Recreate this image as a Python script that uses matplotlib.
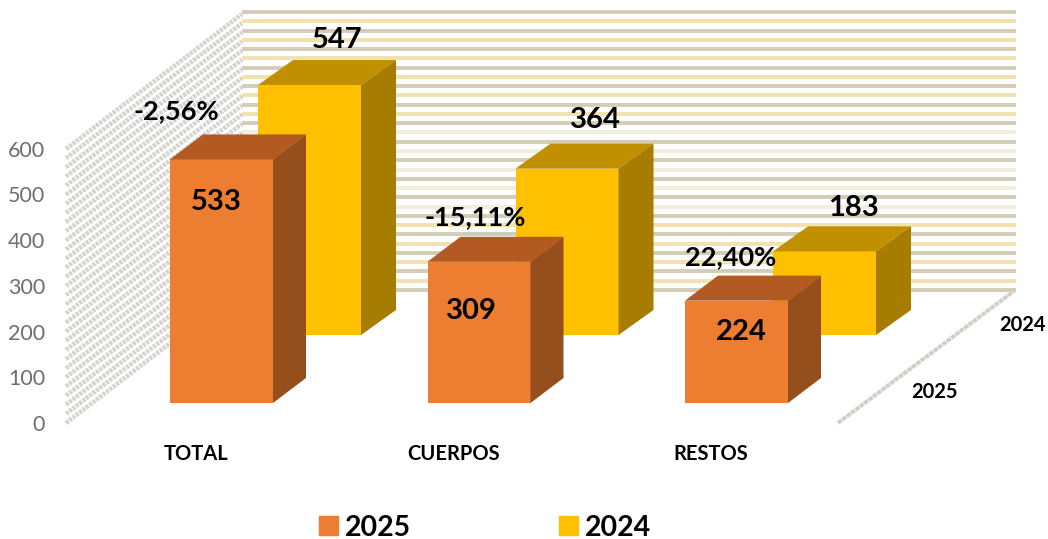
import matplotlib
matplotlib.use("Agg")
import matplotlib.pyplot as plt
from matplotlib.patches import Polygon, Patch

categorias = ["TOTAL", "CUERPOS", "RESTOS"]
valores_2025 = [533, 309, 224]
valores_2024 = [547, 364, 183]
variacion = ["-2,56%", "-15,11%", "22,40%"]
ticks = [0, 100, 200, 300, 400, 500, 600]
series = ["2025", "2024"]

plt.rcParams['font.family'] = ['Lato', 'DejaVu Sans']

# los ejes van en pixeles de la imagen
fig = plt.figure(figsize=(10.48, 5.39), dpi=100)
ax = fig.add_axes([0, 0, 1, 1])
ax.set_xlim(0, 1048)
ax.set_ylim(539, 0)
ax.axis('off')

escala = 0.457  # pixeles por unidad
y0_frente = 403
y0_fondo = 335
paso = 257.5


def barra(x, y0, valor, color, color_top, color_lado, ancho=103, dx=33, dy=25):
    top = y0 - valor * escala
    ax.add_patch(Polygon([(x, y0), (x + ancho, y0), (x + ancho, top), (x, top)],
                         closed=True, fc=color, ec='none', zorder=5))
    ax.add_patch(Polygon([(x, top), (x + dx, top - dy), (x + ancho + dx, top - dy), (x + ancho, top)],
                         closed=True, fc=color_top, ec='none', zorder=5))
    ax.add_patch(Polygon([(x + ancho, y0), (x + ancho + dx, y0 - dy), (x + ancho + dx, top - dy), (x + ancho, top)],
                         closed=True, fc=color_lado, ec='none', zorder=5))


# Pared del fondo y pared izquierda, con las lineas de la cuadricula
n_lineas = 30
colores_fondo = ['#d3ccb6', '#f2e2b0']
for i in range(n_lineas + 1):
    y = 290 - i * (278 / n_lineas)
    claro = 9 <= i <= 18 and i % 2 == 1
    c = '#f3eddc' if claro else colores_fondo[i % 2]
    ax.plot([242, 1016], [y, y], color=c, lw=2.8, solid_capstyle='butt', zorder=1)
    yl = 423 - i * (274 / n_lineas)
    ax.plot([66, 242], [yl, yl - 135], color='#d4d3cf', lw=3.2, zorder=1,
            linestyle=(0, (0.7, 0.25)))
ax.plot([838, 1014], [423, 291], color='#d2cec4', lw=2.8, zorder=1, linestyle=(0, (1.2, 0.2)))

for i in range(3):
    # primero la serie de atras
    barra(258 + i * paso, y0_fondo, valores_2024[i], '#ffc000', '#c09000', '#a67d00', dx=35)
for i in range(3):
    barra(170 + i * paso, y0_frente, valores_2025[i], '#ed7d31', '#b35a22', '#944f1c')

# Etiquetas de datos
pos_2025 = [(216, 202), (471, 311), (741, 332)]
pos_2024 = [(337, 40), (595, 120), (854, 208)]
pos_var = [(176, 111), (475, 217), (731, 257)]
for i in range(3):
    ax.text(*pos_2025[i], str(valores_2025[i]), fontsize=21, fontweight='bold',
            ha='center', va='center', color='black', zorder=10)
    ax.text(*pos_2024[i], str(valores_2024[i]), fontsize=21, fontweight='bold',
            ha='center', va='center', color='black', zorder=10)
    ax.text(*pos_var[i], variacion[i], fontsize=19.5, fontweight='bold',
            ha='center', va='center', color='black', zorder=10)
    ax.text(196 + i * paso, 454, categorias[i], fontsize=14.5, fontweight='bold',
            ha='center', va='center', color='black')

for t in ticks:
    ax.text(45, 425 - t * escala, str(t), fontsize=15.5, ha='right', va='center', color='#6e6e6e')

ax.text(1023, 325, series[1], fontsize=14.5, fontweight='bold', ha='center', va='center')
ax.text(935, 392, series[0], fontsize=14.5, fontweight='bold', ha='center', va='center')

# Leyenda abajo
handles = [Patch(color='#ed7d31', label=series[0]), Patch(color='#ffc000', label=series[1])]
ax.legend(handles=handles, ncol=2, loc='center', bbox_to_anchor=(485, 527.5),
          bbox_transform=ax.transData, frameon=False, handlelength=0.65, handleheight=0.65,
          handletextpad=0.25, columnspacing=5.2, borderpad=0, borderaxespad=0,
          prop={'size': 20.5, 'weight': 'bold'})

plt.savefig("out.png", dpi=100)
